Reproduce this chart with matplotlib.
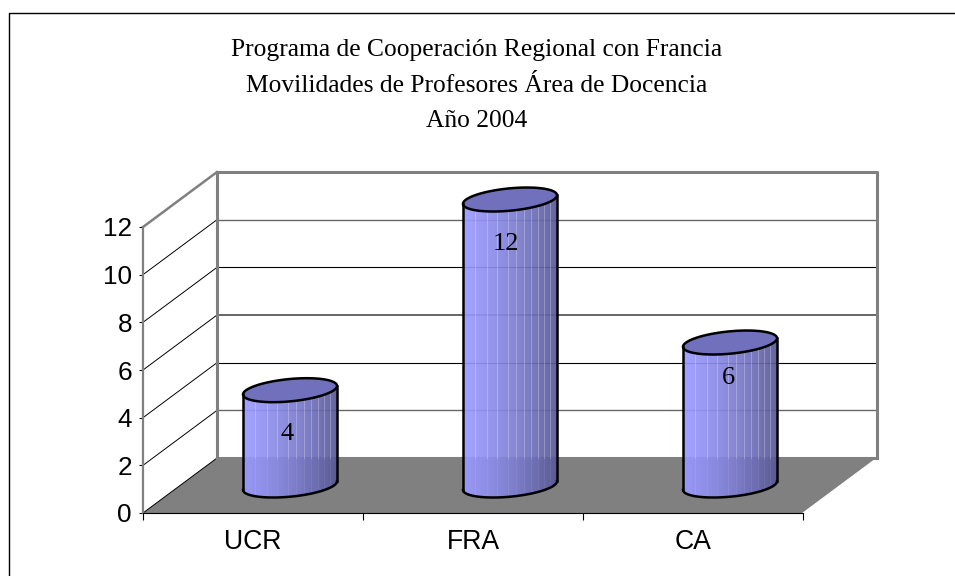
import numpy as np
import matplotlib
matplotlib.use("Agg")
import matplotlib.pyplot as plt

categories = ["UCR", "FRA", "CA"]
values = [4, 12, 6]
y_ticks = [0, 2, 4, 6, 8, 10, 12]
title_lines = ["Programa de Cooperación Regional con Francia",
               "Movilidades de Profesores Área de Docencia",
               "Año 2004"]

W, H = 955, 576
fig = plt.figure(figsize=(W / 100, H / 100), dpi=100)

# outer frame + title are in pixel coords
bg = fig.add_axes([0, 0, 1, 1])
bg.set_xlim(0, W)
bg.set_ylim(H, 0)
bg.axis("off")
bg.plot([8.5, 8.5, 955], [576, 12.8, 12.8], color="black", lw=1.0)
for y, line in zip([56, 92, 127], title_lines):
    bg.text(477, y, line, ha="center", va="baseline", fontsize=18.4, family="Liberation Serif")

# front plane of the 3d box
x0, x1, y0, y1 = 143, 803, 513, 227
ax = fig.add_axes([x0 / W, 1 - y0 / H, (x1 - x0) / W, (y0 - y1) / H])
ax.set_xlim(-0.5, 2.5)
ax.set_ylim(0, 12)
ax.patch.set_visible(False)
for s in ["top", "right"]:
    ax.spines[s].set_visible(False)
ax.spines["left"].set_color("#808080")
ax.spines["left"].set_linewidth(1.6)
ax.spines["bottom"].set_color("black")
ax.spines["bottom"].set_linewidth(0.8)

# depth of the box in data units
dx = 74 / 220
dy = 55 / 23.85

ax.set_xticks([-0.5, 0.5, 1.5, 2.5])
ax.set_xticklabels([])
ax.set_yticks(y_ticks)
ax.tick_params(axis="y", labelsize=18.8, length=3, width=0.8, pad=5, labelfontfamily="Liberation Sans")
ax.tick_params(axis="x", length=5, width=0.8)
ax.tick_params(axis="both", direction="out")

L, R = -0.5, 2.5
floor_x = [L, R, R + dx, L + dx]
floor_y = [0, 0, dy, dy]
ax.fill(floor_x, floor_y, color="#808080", lw=0, clip_on=False, zorder=1)
ax.plot([R, R + dx], [0, dy], color="white", lw=0.8, clip_on=False, zorder=1.2)
ax.plot([L, L + dx], [0, dy], color="black", lw=0.7, clip_on=False, zorder=1.2)

# grid on back wall and side wall
grid_colors = {2: "#666666", 4: "black", 6: "#666666", 8: "black", 10: "#666666"}
grid_widths = {2: 1.0, 4: 0.8, 6: 1.4, 8: 0.8, 10: 1.0}
for v in y_ticks[1:-1]:
    ax.plot([L + dx, R + dx], [v + dy, v + dy], color=grid_colors[v], lw=grid_widths[v], clip_on=False, zorder=1)
    ax.plot([L, L + dx], [v, v + dy], color="black", lw=0.7, clip_on=False, zorder=1)
ax.plot([L, L + dx], [12, 12 + dy], color="#808080", lw=1.8, clip_on=False, zorder=1)

# walls
ax.plot([L + dx, L + dx, R + dx, R + dx], [dy, 12 + dy, 12 + dy, dy], color="#808080", lw=2.2, clip_on=False, zorder=1.5)
ax.plot([L + dx, R + dx], [dy, dy], color="#808080", lw=2.2, clip_on=False, zorder=1.5)

# cylinders
rx = 47 / 220
tilt = 4.3 / 23.85
ry = 11.2 / 23.85
t = np.linspace(0, 2 * np.pi, 200)
side_left = np.array([153, 153, 255])
side_right = np.array([88, 88, 150])
stripes = [-0.75, -0.5, -0.28, -0.05, 0.12, 0.3, 0.45, 0.6, 0.72, 0.85]
label_drop = [43.5, 45, 36]
label_shift = [-3, -4, -2]

for i, (cat, val) in enumerate(zip(categories, values)):
    cx = i + dx / 2
    cy = dy / 2
    # body as narrow vertical strips
    xs = np.linspace(-1, 1, 95)
    for j in range(len(xs) - 1):
        tt = np.array([xs[j], xs[j + 1]])
        edge = np.sqrt(1 - np.clip(tt, -1, 1) ** 2)
        low = cy + tilt * tt - ry * edge
        up = cy + val + tilt * tt - ry * edge
        f = (j / (len(xs) - 2)) ** 1.4
        col = (side_left + (side_right - side_left) * f) / 255
        ax.fill_between(cx + rx * tt, low, up, color=col, lw=0.3, clip_on=False, zorder=3)
    # faint light streaks, they stop at the bottom of the back wall
    for s in stripes:
        e = np.sqrt(1 - s ** 2)
        top = cy + val + tilt * s - ry * e
        ax.plot([cx + rx * s] * 2, [dy, top], color="white", lw=0.6, alpha=0.3, clip_on=False, zorder=3.2)
        ax.plot([cx + rx * s] * 2, [cy + tilt * s - ry * e, dy], color="white", lw=0.6, alpha=0.08, clip_on=False, zorder=3.2)
    ex = cx + rx * np.cos(t)
    ey = cy + tilt * np.cos(t) + ry * np.sin(t)
    ax.fill(ex, ey + val, color="#7070BC", ec="black", lw=1.8, clip_on=False, zorder=4)
    # outline of body
    front = t[(t >= np.pi) & (t <= 2 * np.pi)]
    bx = cx + rx * np.cos(front)
    by = cy + tilt * np.cos(front) + ry * np.sin(front)
    ax.plot(bx, by, color="black", lw=1.8, clip_on=False, zorder=4)
    ax.plot([cx - rx, cx - rx], [cy - tilt, cy - tilt + val], color="black", lw=1.8, clip_on=False, zorder=4)
    ax.plot([cx + rx, cx + rx], [cy + tilt, cy + tilt + val], color="black", lw=1.8, clip_on=False, zorder=4)
    # value label
    ax.text(cx + label_shift[i] / 220, cy + val - label_drop[i] / 23.85, str(val), ha="center", va="center",
            fontsize=19, family="Liberation Serif", zorder=5)
    ax.text(i, -1.2, cat, ha="center", va="center", fontsize=19.2, family="Liberation Sans")

fig.savefig("out.png", dpi=100)
